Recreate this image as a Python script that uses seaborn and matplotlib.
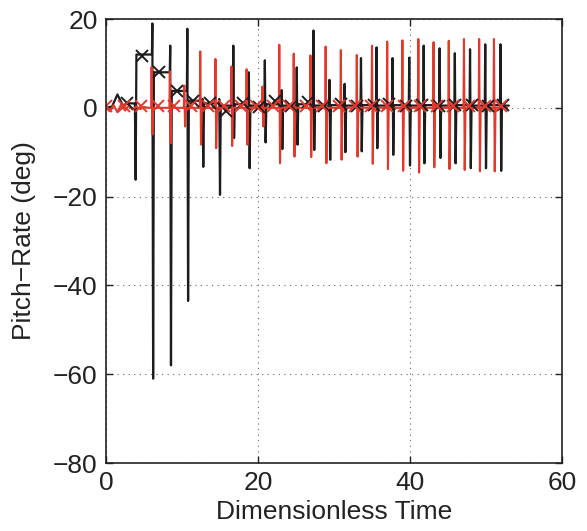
import numpy as np
import pandas as pd
import matplotlib
matplotlib.use("Agg")
import matplotlib.pyplot as plt
import seaborn as sns

# ---------------- data ----------------
# black series: initial slow part, then spikes (time, high, low, level after)
black_lead_t = [0.0, 0.8, 1.5, 2.2, 3.0, 3.6]
black_lead_y = [0.0, 0.3, 3.0, 0.6, 1.0, 1.0]
black_spk_t = [3.8, 6.1, 8.45, 10.7, 12.7, 14.9, 16.75, 18.8, 20.9, 23.1, 25.1, 27.3,
               29.4, 31.4, 33.55, 35.6, 37.7, 39.9, 41.8, 43.9, 45.9, 47.9, 49.9, 51.9]
black_spk_hi = [1.0, 19.0, 14.0, 17.8, 2.0, 2.0, 14.0, 8.0, 10.7, 4.0, 9.1, 17.4,
                6.3, 5.4, 11.2, 13.6, 11.2, 11.3, 14.0, 13.4, 12.3, 13.2, 14.3, 14.3]
black_spk_lo = [-16.2, -61.0, -58.0, -43.5, -13.3, -19.6, -6.8, -13.6, -7.8, -9.3, -8.3, -9.5,
                -11.7, -10.0, -9.8, -9.1, -10.6, -13.0, -12.5, -11.3, -12.5, -13.6, -13.6, -14.2]
black_spk_next = [12.0, 8.0, 3.8, 1.6, 1.0, 0.5, 0.8, 0.5, 0.8, 0.5, 0.8, 0.5,
                  0.6, 0.5, 0.6, 0.5, 0.6, 0.5, 0.6, 0.5, 0.6, 0.5, 0.6, 0.5]
black_end_t, black_end_y = 53.0, 0.5

# red series
red_lead_t = [0.0, 0.5, 1.0, 1.5, 2.0, 2.5, 3.0, 3.5, 4.0, 4.5, 5.0, 5.5]
red_lead_y = [0.0, -0.8, 0.6, -1.0, 0.8, -0.6, 0.5, -0.4, 0.3, -0.3, 0.2, 0.0]
red_spk_t = [6.0, 8.4, 10.3, 12.4, 14.4, 16.5, 18.5, 20.6, 22.8, 24.7, 26.9, 28.9,
             30.9, 33.0, 35.0, 37.0, 39.0, 41.1, 43.1, 45.1, 47.1, 49.1, 51.05]
red_spk_hi = [9.2, 8.2, 5.0, 12.7, 11.0, 9.3, 8.7, 4.8, 14.2, 12.2, 11.8, 13.8,
              13.0, 11.9, 14.0, 14.9, 15.2, 15.5, 14.8, 15.1, 15.5, 15.5, 15.5]
red_spk_lo = [-6.0, -8.0, -4.2, -8.3, -9.1, -8.6, -8.3, -4.2, -12.5, -11.0, -11.1, -12.5,
              -11.7, -11.0, -12.6, -13.8, -14.2, -14.6, -13.4, -13.8, -14.0, -14.3, -14.3]
red_end_t, red_end_y = 52.8, 0.2

# x markers
black_mk_t = [2.7, 4.8, 7.0, 9.3, 11.5, 13.7, 15.8, 18.0, 20.1, 22.3, 24.4, 26.6,
              28.7, 30.9, 33.0, 35.2, 37.3, 39.5, 41.6, 43.8, 45.9, 48.1, 50.2, 52.3]
black_mk_y = [1.1, 11.6, 8.0, 3.8, 1.6, 1.1, -0.8, 1.0, 0.2, 1.5, 0.3, 1.2,
              0.5, 0.8, 0.3, 0.6, 0.8, 0.4, 0.6, 0.5, 0.7, 0.6, 0.5, 0.6]
red_mk_t = [0.0, 2.4, 4.6, 6.8, 9.0, 11.2, 13.4, 15.5, 17.7, 19.8, 22.0, 24.1, 26.3,
            28.4, 30.6, 32.7, 34.9, 37.0, 39.2, 41.3, 43.5, 45.6, 47.8, 49.9, 52.0]
red_mk_y = [0.3] * len(red_mk_t)

x_ticks = [0, 20, 40, 60]
y_ticks = [-80, -60, -40, -20, 0, 20]


def build(lead_t, lead_y, spk_t, spk_hi, spk_lo, spk_next, end_t, end_y):
    t = list(lead_t)
    y = list(lead_y)
    prev = lead_y[-1]
    for i, ts in enumerate(spk_t):
        nxt = spk_next[i] if spk_next is not None else prev
        t += [ts - 0.06, ts, ts + 0.1, ts + 0.2]
        y += [prev, spk_hi[i], spk_lo[i], nxt]
        prev = nxt
    t.append(end_t)
    y.append(end_y)
    return np.array(t), np.array(y)


bt, by = build(black_lead_t, black_lead_y, black_spk_t, black_spk_hi, black_spk_lo,
               black_spk_next, black_end_t, black_end_y)
rt, ry = build(red_lead_t, red_lead_y, red_spk_t, red_spk_hi, red_spk_lo,
               None, red_end_t, red_end_y)

df_black = pd.DataFrame({"t": bt, "y": by})
df_red = pd.DataFrame({"t": rt, "y": ry})

# ---------------- style ----------------
sns.set_theme(style="white")
plt.rcParams["font.family"] = ["Liberation Sans", "DejaVu Sans"]

BLACK = "#1c1c1c"
RED = "#e3392c"
FS = 19

fig = plt.figure(figsize=(5.87, 5.31), dpi=100)
ax = fig.add_axes([0.1806, 0.128, 0.7768, 0.8362])

sns.lineplot(data=df_black, x="t", y="y", ax=ax, color=BLACK, lw=1.6,
             sort=False, estimator=None)
sns.lineplot(data=df_red, x="t", y="y", ax=ax, color=RED, lw=1.5,
             sort=False, estimator=None)
ax.plot(black_mk_t, black_mk_y, ls="none", marker="x", ms=8, mew=1.4, color=BLACK)
ax.plot(red_mk_t, red_mk_y, ls="none", marker="x", ms=8, mew=1.4, color=RED)

ax.set_xlim(0, 60)
ax.set_ylim(-80, 20)
ax.set_xticks(x_ticks)
ax.set_yticks(y_ticks)
ax.set_xticklabels([str(v) for v in x_ticks])
ax.set_yticklabels([str(v).replace("-", "\u2212") for v in y_ticks])

ax.grid(True, ls=(0, (1, 4)), color="#666666", lw=0.8)
ax.tick_params(direction="in", length=5, width=1.0, labelsize=FS, pad=6,
               top=True, right=True, bottom=True, left=True, colors="#222222")
for s in ax.spines.values():
    s.set_visible(True)
    s.set_color("#222222")
    s.set_linewidth(1.2)

ax.set_xlabel("Dimensionless Time", fontsize=FS, color="#222222", labelpad=3)
ax.set_ylabel("Pitch\u2212Rate (deg)", fontsize=FS, color="#222222", labelpad=12)

fig.savefig("out.png", dpi=100)
